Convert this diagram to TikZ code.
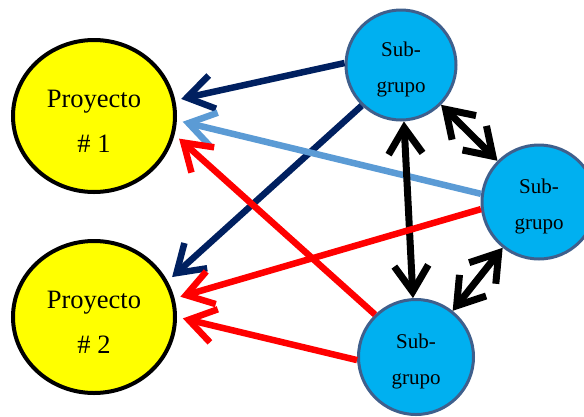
\documentclass[tikz,border=0pt]{standalone}
\usepackage{fontspec}
\setmainfont{Liberation Serif}
\usepackage{tikz}
\usetikzlibrary{arrows.meta,shapes.geometric}
\definecolor{amarillo}{HTML}{FFFF00}
\definecolor{celeste}{HTML}{00B0F0}
\definecolor{borde}{HTML}{3F5F8C}
\definecolor{marino}{HTML}{002060}
\definecolor{azulclaro}{HTML}{5B9BD5}
\definecolor{rojo}{HTML}{FF0000}

\begin{document}
\begin{tikzpicture}[x=1pt,y=-1pt,
  proy/.style={ellipse,draw=black,line width=4pt,fill=amarillo,minimum width=162pt,minimum height=152pt},
  sub/.style={circle,draw=borde,line width=3pt,fill=celeste},
  txtp/.style={align=center,inner sep=0pt,yshift=-5pt,font=\fontsize{26.5}{45}\selectfont},
  txts/.style={align=center,inner sep=0pt,yshift=-4pt,font=\fontsize{21}{36}\selectfont},
  flecha/.style={-{Straight Barb[length=26pt,width=34pt,line width=6.5pt]},line width=6.5pt,shorten >=6pt},
  doble/.style={{Straight Barb[length=26pt,width=34pt,line width=7pt]}-{Straight Barb[length=26pt,width=34pt,line width=7pt]},line width=7pt,black}]
\useasboundingbox (0,0) rectangle (584,416);
\node[proy,label={[txtp]center:Proyecto\\\# 1}] (p1) at (94,116) {};
\node[proy,label={[txtp]center:Proyecto\\\# 2}] (p2) at (94,317) {};
\node[sub,minimum size=110pt,label={[txts]center:Sub-\\grupo}] (sg1) at (401,65) {};
\node[sub,minimum size=114pt,label={[txts]center:Sub-\\grupo}] (sg2) at (539,202) {};
\node[sub,minimum size=115pt,label={[txts]center:Sub-\\grupo}] (sg3) at (416,357) {};
% conexiones
\draw[flecha,marino] (sg1.178) -- (p1.11);
\draw[flecha,marino] (sg1.226) -- (p2.26);
\draw[flecha,azulclaro] (sg2.172) -- (p1.357);
\draw[doble] (sg1) -- (sg3);
\draw[doble] (sg1) -- (sg2);
\draw[doble] (sg2) -- (sg3);
\draw[flecha,rojo] (sg2.187) -- (p2.13);
\draw[flecha,rojo] (sg3.134) -- (p1.347);
\draw[flecha,rojo] (sg3.183) -- (p2.0);
\end{tikzpicture}
\end{document}
